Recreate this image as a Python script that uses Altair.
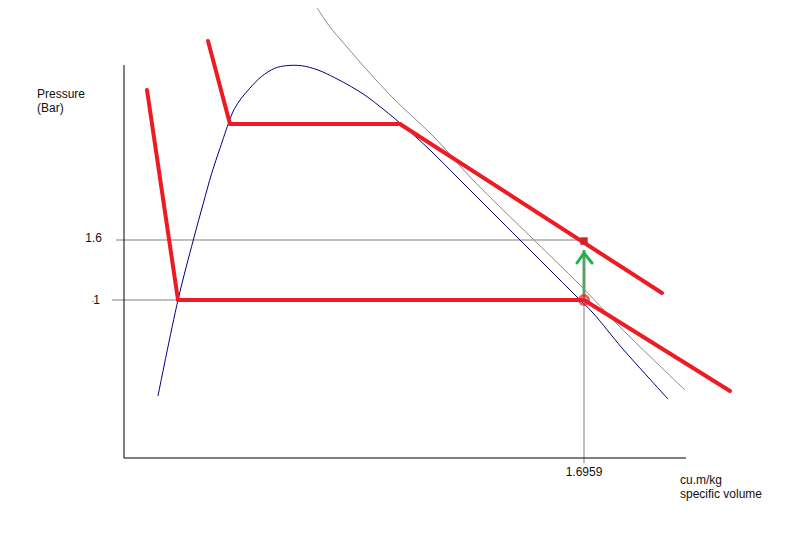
import altair as alt
import pandas as pd

# ---------------- data (specific volume v in cu.m/kg, pressure p in bar) -------------
# saturation dome (blue)
dome_v = [0.1253, 0.1991, 0.2555, 0.2924, 0.3233, 0.3539, 0.3897, 0.4081, 0.4325, 0.4634,
          0.5062, 0.5556, 0.5984, 0.6536, 0.7152, 0.7768, 0.8380, 0.8874, 0.9364, 1.0175,
          1.1281, 1.2387, 1.3678, 1.4526, 1.5595, 1.6701, 1.7291, 1.8360, 1.9318, 2.0056]
dome_p = [0.04, 1.00, 1.60, 1.967, 2.267, 2.517, 2.80, 2.917, 3.017, 3.117,
          3.233, 3.317, 3.343, 3.343, 3.30, 3.223, 3.133, 3.05, 2.95, 2.77,
          2.50, 2.20, 1.85, 1.62, 1.33, 1.03, 0.87, 0.52, 0.23, 0.01]

# thin gray reference curve
gray_v = [0.7005, 0.7595, 0.8221, 0.8959, 0.9991, 1.1466, 1.2867, 1.5079, 1.6811, 1.8286, 2.0682]
gray_p = [3.97, 3.73, 3.53, 3.30, 3.00, 2.62, 2.20, 1.61, 1.15, 0.73, 0.10]

# red isobar / process segments
red_seg = ["A", "A", "B", "B", "C", "C", "D", "D", "E", "E", "F", "F"]
red_v = [0.0848, 0.1991, 0.1991, 1.6959, 1.6959, 2.2341, 0.3097, 0.3908, 0.3908, 1.0175, 1.0175, 1.9834]
red_p = [3.10, 1.00, 1.00, 1.00, 1.00, 0.09, 3.59, 2.76, 2.76, 2.76, 2.76, 1.07]

# gray guide lines (p = 1.6, p = 1, v = 1.6959)
guide_seg = ["h16", "h16", "h1", "h1", "v", "v"]
guide_v = [-0.0295, 1.6959, -0.0442, 1.6959, 1.6959, 1.6959]
guide_p = [1.60, 1.60, 1.00, 1.00, 1.00, -0.63]

# axis lines
axis_seg = ["y", "y", "x", "x"]
axis_v = [0.0, 0.0, 0.0, 2.0720]
axis_p = [3.35, -0.58, -0.58, -0.58]

# green arrow (shaft and head)
arrow_seg = ["shaft", "shaft", "head", "head", "head"]
arrow_v = [1.6959, 1.6959, 1.6701, 1.6959, 1.7254]
arrow_p = [1.02, 1.50, 1.37, 1.47, 1.37]

# state points
state_v = [1.6959, 1.6959]
state_p = [1.00, 1.59]
state_shape = ["circle", "square"]

# labels
label_text = ["Pressure", "(Bar)", "1.6", "1", "1.6959", "cu.m/kg", "specific volume"]
label_v = [-0.3207, -0.3207, -0.0811, -0.0885, 1.6959, 2.0498, 2.0498]
label_p = [3.06, 2.92, 1.62, 1.00, -0.72, -0.80, -0.935]
label_align = ["left", "left", "right", "right", "center", "left", "left"]

# ---------------- layout ----------------
W, H = 776, 536
PX_PER_V = 460 / 1.6959
X0 = 116
x_scale = alt.Scale(domain=[-X0 / PX_PER_V, (W - X0) / PX_PER_V], nice=False, zero=False)
Y1 = 292
y_scale = alt.Scale(domain=[1 - (H - Y1) / 100, 1 + Y1 / 100], nice=False, zero=False)

X = lambda: alt.X("v:Q", scale=x_scale, axis=None)
Y = lambda: alt.Y("p:Q", scale=y_scale, axis=None)


def lines(v, p, seg, color, width, interp="linear", cap="butt", clip=False):
    df = pd.DataFrame({"v": v, "p": p, "seg": seg, "o": list(range(len(v)))})
    return alt.Chart(df).mark_line(color=color, strokeWidth=width, interpolate=interp,
                                   strokeCap=cap, clip=clip).encode(
        x=X(), y=Y(), detail="seg:N", order="o:Q")


axes = lines(axis_v, axis_p, axis_seg, "#000000", 1)
guides = lines(guide_v, guide_p, guide_seg, "#808080", 1)
dome = lines(dome_v, dome_p, ["d"] * len(dome_v), "#000080", 1, interp="catmull-rom")
gray = lines(gray_v, gray_p, ["g"] * len(gray_v), "#8a8a8a", 1, interp="catmull-rom", clip=True)
red = lines(red_v, red_p, red_seg, "#ED1C24", 4, cap="round")
shaft = lines(arrow_v[:2], arrow_p[:2], arrow_seg[:2], "#5a9e6a", 3)
head = lines(arrow_v[2:], arrow_p[2:], arrow_seg[2:], "#22B14C", 3, cap="round")

pts_df = pd.DataFrame({"v": state_v, "p": state_p, "s": state_shape})
circ = alt.Chart(pts_df[pts_df.s == "circle"]).mark_point(
    shape="circle", size=80, filled=False, stroke="#ED1C24", strokeWidth=3).encode(x=X(), y=Y())
sq = alt.Chart(pts_df[pts_df.s == "square"]).mark_point(
    shape="square", size=55, filled=True, fill="#D62028", opacity=1).encode(x=X(), y=Y())

lab_df = pd.DataFrame({"t": label_text, "v": label_v, "p": label_p, "a": label_align})
texts = []
for a in ["left", "right", "center"]:
    texts.append(alt.Chart(lab_df[lab_df.a == a]).mark_text(
        align=a, baseline="middle", font="Liberation Sans", fontSize=12, color="#111111").encode(
        x=X(), y=Y(), text="t:N"))

dot = alt.Chart(pd.DataFrame({"v": [-0.1143], "p": [0.985]})).mark_point(
    shape="circle", size=3, filled=True, color="#777777").encode(x=X(), y=Y())

chart = alt.layer(guides, gray, dome, axes, red, shaft, head, circ, sq, dot, *texts).properties(
    width=W, height=H, padding=0
).configure_view(strokeWidth=0)

chart.save("out.html", embed_options={"renderer": "svg", "actions": False})
